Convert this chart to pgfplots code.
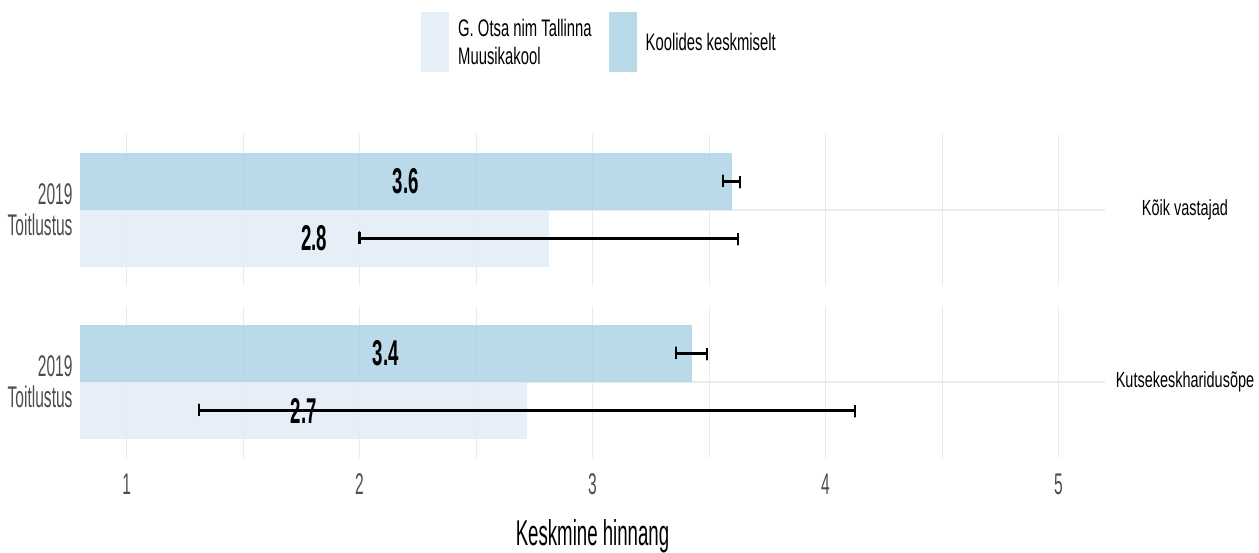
\documentclass[border=0pt]{standalone}
\usepackage{fontspec}
\setmainfont[FakeStretch=0.66]{Liberation Sans}
\newfontfamily\tickfont[FakeStretch=0.52]{Liberation Sans}
\newfontfamily\legfont[FakeStretch=0.62]{Liberation Sans}
\newfontfamily\valfont[FakeStretch=0.52]{Liberation Sans}
\usepackage{pgfplots}
\pgfplotsset{compat=1.18}

\definecolor{kool}{RGB}{226,236,247}
\definecolor{avg}{RGB}{175,211,229}
\definecolor{gridc}{RGB}{235,235,235}
\definecolor{axtext}{RGB}{77,77,77}

\pgfplotsset{
  panel/.style={
    scale only axis, width=1025bp, height=152bp,
    xmin=0.8, xmax=5.2, ymin=0.4, ymax=1.6,
    axis line style={draw=none},
    major tick length=0pt, minor tick length=0pt,
    xtick={1,2,3,4,5}, minor xtick={1.5,2.5,3.5,4.5},
    ytick={1}, yticklabels={{2019\\Toitlustus}},
    xmajorgrids, xminorgrids, ymajorgrids,
    major grid style={gridc, line width=1.3bp},
    minor grid style={gridc, line width=0.8bp},
    yticklabel style={align=right, text=axtext, xshift=-4bp,
      font=\tickfont\fontsize{30}{31}\selectfont},
    xticklabel style={text=axtext, font=\tickfont\fontsize{30}{34}\selectfont, yshift=-12bp},
    /pgf/number format/assume math mode=true,
    anchor=south west,
  },
  barkey/.style={legend image code/.code={\fill[##1] (0bp,-30bp) rectangle (28bp,30bp);}},
  vals/.style={only marks, mark=none, point meta=explicit symbolic,
    nodes near coords, nodes near coords style={anchor=center, text=black,
      font=\valfont\bfseries\fontsize{36}{40}\selectfont}},
  ebar/.style={black, line width=2.6bp, mark=none, line join=round, forget plot},
}

\begin{document}
\begin{tikzpicture}
\path[use as bounding box] (0,0) rectangle (1259bp,553bp);

% panel 1: Kõik vastajad
\begin{axis}[panel, name=p1, at={(80bp,267bp)}, xticklabels={},
  legend columns=2,
  legend style={at={(0.3327,1.8026)}, anchor=north west, draw=none, fill=none,
    inner sep=0pt, font=\legfont\fontsize{24}{28}\selectfont,
    cells={anchor=west, align=left},
    /tikz/every odd column/.append style={column sep=7bp},
    /tikz/every even column/.append style={column sep=15bp}},
]
\addplot[xbar, bar width=0.45, draw=none, fill=kool, fill opacity=0.85, barkey]
  coordinates {(2.812,0.775)};
\addlegendentry{G. Otsa nim Tallinna\\Muusikakool}
\addplot[xbar, bar width=0.45, draw=none, fill=avg, fill opacity=0.85, barkey]
  coordinates {(3.597,1.225)};
\addlegendentry{Koolides keskmiselt}
% confidence intervals
\addplot[ebar] coordinates {(3.561,1.178)(3.561,1.272)(3.561,1.225)(3.633,1.225)(3.633,1.178)(3.633,1.272)};
\addplot[ebar] coordinates {(2.000,0.728)(2.000,0.822)(2.000,0.775)(3.624,0.775)(3.624,0.728)(3.624,0.822)};
\addplot[vals, forget plot] coordinates {(2.199,1.225) [3.6] (1.806,0.775) [2.8]};
\end{axis}

% panel 2: Kutsekeskharidusõpe
\begin{axis}[panel, name=p2, at={(80bp,95bp)},
  xlabel={Keskmine hinnang},
  xlabel style={font=\tickfont\fontsize{36}{40}\selectfont, text=black, yshift=-18bp},
]
\addplot[xbar, bar width=0.45, draw=none, fill=kool, fill opacity=0.85]
  coordinates {(2.719,0.775)};
\addplot[xbar, bar width=0.45, draw=none, fill=avg, fill opacity=0.85]
  coordinates {(3.425,1.225)};
\addplot[ebar] coordinates {(3.358,1.178)(3.358,1.272)(3.358,1.225)(3.491,1.225)(3.491,1.178)(3.491,1.272)};
\addplot[ebar] coordinates {(1.311,0.728)(1.311,0.822)(1.311,0.775)(4.127,0.775)(4.127,0.728)(4.127,0.822)};
\addplot[vals] coordinates {(2.113,1.225) [3.4] (1.760,0.775) [2.7]};
\end{axis}

\node[font=\fontsize{22}{26}\selectfont] at ([xshift=80bp]p1.east) {Kõik vastajad};
\node[font=\fontsize{22}{26}\selectfont] at ([xshift=80bp]p2.east) {Kutsekeskharidusõpe};
\end{tikzpicture}
\end{document}
